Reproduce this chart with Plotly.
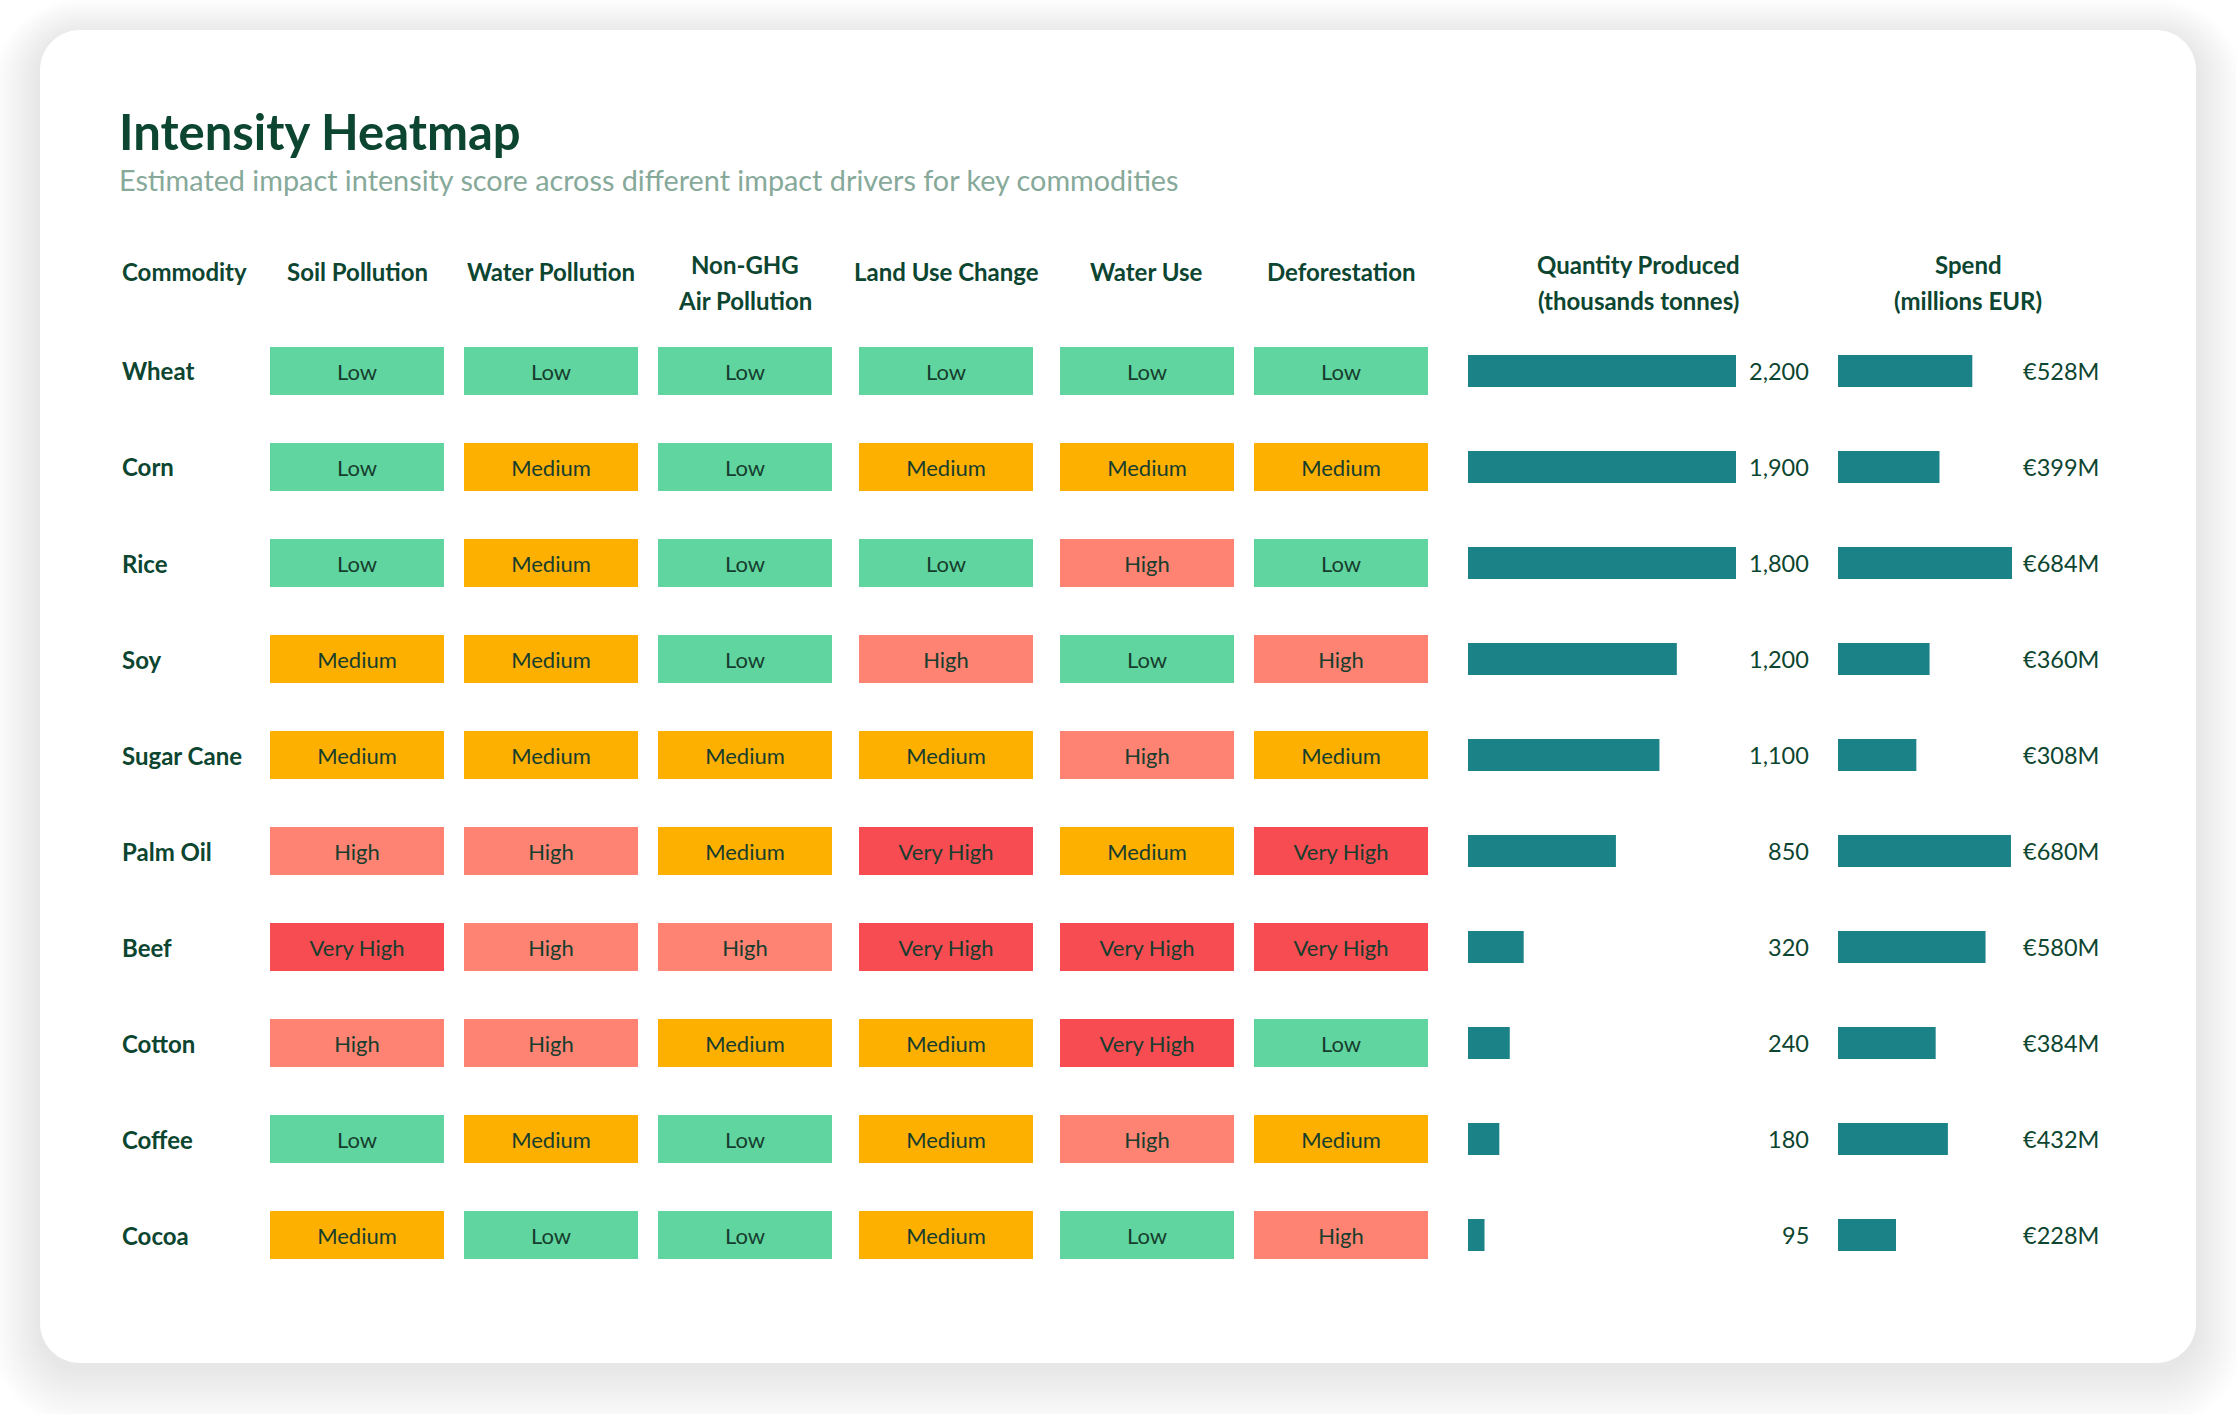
import plotly.graph_objects as go

# ---------------- data ----------------
commodities = ["Wheat", "Corn", "Rice", "Soy", "Sugar Cane", "Palm Oil", "Beef", "Cotton", "Coffee", "Cocoa"]
drivers = ["Soil Pollution", "Water Pollution", "Non-GHG Air Pollution", "Land Use Change", "Water Use", "Deforestation"]
soil_pollution = ["Low", "Low", "Low", "Medium", "Medium", "High", "Very High", "High", "Low", "Medium"]
water_pollution = ["Low", "Medium", "Medium", "Medium", "Medium", "High", "High", "High", "Medium", "Low"]
non_ghg_air = ["Low", "Low", "Low", "Low", "Medium", "Medium", "High", "Medium", "Low", "Low"]
land_use_change = ["Low", "Medium", "Low", "High", "Medium", "Very High", "Very High", "Medium", "Medium", "Medium"]
water_use = ["Low", "Medium", "High", "Low", "High", "Medium", "Very High", "Very High", "High", "Low"]
deforestation = ["Low", "Medium", "Low", "High", "Medium", "Very High", "Very High", "Low", "Medium", "High"]
quantity_kt = [2200, 1900, 1800, 1200, 1100, 850, 320, 240, 180, 95]
spend_m_eur = [528, 399, 684, 360, 308, 680, 580, 384, 432, 228]

levels_by_driver = [soil_pollution, water_pollution, non_ghg_air, land_use_change, water_use, deforestation]

# ---------------- style ----------------
W, H = 2236, 1414
FONT = "Lato"
DARK = "#0c4530"
CELL_TXT = "#163d2d"
SUB = "#86a99a"
TEAL = "#1b8288"
level_colors = {"Low": "#60d59f", "Medium": "#feb000", "High": "#ff8373", "Very High": "#f74c52"}

def fx(px):
    return px / W

def fy(py):
    return 1 - py / H

# column pixel spans (left, right)
driver_cols = [(270, 444), (464, 638), (658, 832), (859, 1033), (1060, 1234), (1254, 1428)]
qty_dom = (1468, 1736)
spend_dom = (1838, 2012)
row_top, row_bottom = 323, 1283

fig = go.Figure()

for j, (lv, (l, r)) in enumerate(zip(levels_by_driver, driver_cols)):
    ax = "x" if j == 0 else f"x{j+1}"
    fig.add_trace(go.Bar(
        x=[1] * len(commodities), y=commodities, orientation="h",
        xaxis=ax, yaxis="y", width=0.5,
        marker=dict(color=[level_colors[v] for v in lv], line=dict(width=0)),
        text=lv, textposition="inside", insidetextanchor="middle", textangle=0,
        insidetextfont=dict(family=FONT, size=22, color=CELL_TXT),
        hoverinfo="skip", name=drivers[j],
    ))

fig.add_trace(go.Bar(x=quantity_kt, y=commodities, orientation="h", xaxis="x7", yaxis="y",
                     width=1/3, marker=dict(color=TEAL, line=dict(width=0)), hoverinfo="skip"))
fig.add_trace(go.Bar(x=spend_m_eur, y=commodities, orientation="h", xaxis="x8", yaxis="y",
                     width=1/3, marker=dict(color=TEAL, line=dict(width=0)), hoverinfo="skip"))

axis_common = dict(visible=False, showgrid=False, zeroline=False, fixedrange=True, anchor="y")
layout_axes = {}
for j, (l, r) in enumerate(driver_cols):
    key = "xaxis" if j == 0 else f"xaxis{j+1}"
    layout_axes[key] = dict(domain=[fx(l), fx(r)], range=[0, 1], **axis_common)
layout_axes["xaxis7"] = dict(domain=[fx(qty_dom[0]), fx(qty_dom[1])], range=[0, 1540], **axis_common)
layout_axes["xaxis8"] = dict(domain=[fx(spend_dom[0]), fx(spend_dom[1])], range=[0, 684], **axis_common)

# ---------------- card + shadow ----------------
def rr_path(x0, y0, x1, y1, r):
    k = 0.5523 * r
    pts = [
        ("M", [(x0 + r, y0)]), ("L", [(x1 - r, y0)]),
        ("C", [(x1 - r + k, y0), (x1, y0 + r - k), (x1, y0 + r)]),
        ("L", [(x1, y1 - r)]),
        ("C", [(x1, y1 - r + k), (x1 - r + k, y1), (x1 - r, y1)]),
        ("L", [(x0 + r, y1)]),
        ("C", [(x0 + r - k, y1), (x0, y1 - r + k), (x0, y1 - r)]),
        ("L", [(x0, y0 + r)]),
        ("C", [(x0, y0 + r - k), (x0 + r - k, y0), (x0 + r, y0)]),
    ]
    s = ""
    for cmd, ps in pts:
        s += cmd + " ".join(f"{fx(px):.6f},{fy(py):.6f}" for px, py in ps)
    return s + "Z"

shapes = []
cx0, cy0, cx1, cy1, rad = 40, 30, 2196, 1363, 40
for i in range(24, 0, -1):
    sp = i * 2.0
    dy = 6 + i * 0.45
    shapes.append(dict(type="path", xref="paper", yref="paper", layer="below",
                       path=rr_path(cx0 - sp, cy0 - sp + dy, cx1 + sp, cy1 + sp + dy, rad + sp),
                       fillcolor="rgba(0,0,0,0.0042)", line=dict(width=0)))
shapes.append(dict(type="path", xref="paper", yref="paper", layer="below",
                   path=rr_path(cx0, cy0, cx1, cy1, rad), fillcolor="white", line=dict(width=0)))

# ---------------- text ----------------
ann = []
ann.append(dict(text="<b>Intensity Heatmap</b>", x=fx(117), y=fy(131), xref="paper", yref="paper",
                xanchor="left", yanchor="middle", showarrow=False,
                font=dict(family=FONT, size=49, color=DARK)))
ann.append(dict(text="Estimated impact intensity score across different impact drivers for key commodities",
                x=fx(117), y=fy(180), xref="paper", yref="paper", xanchor="left", yanchor="middle",
                showarrow=False, font=dict(family=FONT, size=28.8, color=SUB)))

def header(text, xc, yc, anchor="center"):
    ann.append(dict(text=f"<b>{text}</b>", x=fx(xc), y=fy(yc), xref="paper", yref="paper",
                    xanchor=anchor, yanchor="middle", showarrow=False,
                    font=dict(family=FONT, size=24, color=DARK)))

header("Commodity", 120, 271, "left")
header_lines = [["Soil Pollution"], ["Water Pollution"], ["Non-GHG", "Air Pollution"],
                ["Land Use Change"], ["Water Use"], ["Deforestation"]]
for lines, (l, r) in zip(header_lines, driver_cols):
    xc = (l + r) / 2
    if len(lines) == 1:
        header(lines[0], xc, 271)
    else:
        header(lines[0], xc, 265)
        header(lines[1], xc, 301)
header("Quantity Produced", 1638, 265)
header("(thousands tonnes)", 1638, 301)
header("Spend", 1968, 265)
header("(millions EUR)", 1968, 301)

for c, q, s in zip(commodities, quantity_kt, spend_m_eur):
    ann.append(dict(text=f"<b>{c}</b>", x=fx(120), y=c, xref="paper", yref="y",
                    xanchor="left", yanchor="middle", showarrow=False,
                    font=dict(family=FONT, size=24, color=DARK)))
    ann.append(dict(text=f"{q:,}", x=fx(1811), y=c, xref="paper", yref="y",
                    xanchor="right", yanchor="middle", showarrow=False,
                    font=dict(family=FONT, size=23.5, color=DARK)))
    ann.append(dict(text=f"€{s}M", x=fx(2101), y=c, xref="paper", yref="y",
                    xanchor="right", yanchor="middle", showarrow=False,
                    font=dict(family=FONT, size=23.5, color=DARK)))

fig.update_layout(
    width=W, height=H, margin=dict(l=0, r=0, t=0, b=0),
    paper_bgcolor="white", plot_bgcolor="rgba(0,0,0,0)",
    showlegend=False, barmode="overlay",
    yaxis=dict(domain=[fy(row_bottom), fy(row_top)], type="category", categoryorder="array",
               categoryarray=commodities, range=[len(commodities) - 0.5, -0.5],
               visible=False, showgrid=False, zeroline=False, fixedrange=True),
    shapes=shapes, annotations=ann,
    font=dict(family=FONT),
    **layout_axes,
)

fig.write_html("out.html", config={"displayModeBar": False},
               post_script="document.body.style.margin='0';document.body.style.overflow='hidden';")
